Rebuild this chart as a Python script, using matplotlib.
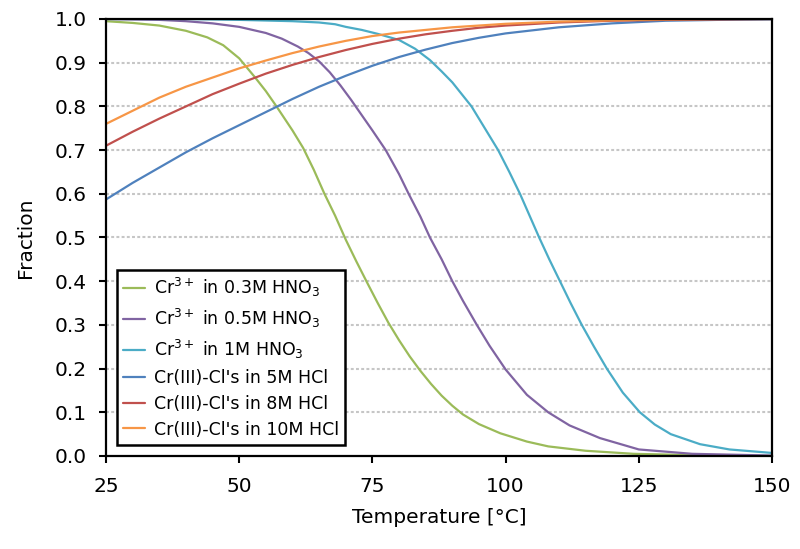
'''Fraction of Cr species vs temperature in HNO3 / HCl solutions.'''

import numpy as np
import matplotlib
matplotlib.use('Agg')
import matplotlib.pyplot as plt
from matplotlib.ticker import FormatStrFormatter

# ---------------------------------------------------------------------------
# data (temperature in degC, fraction)
t_03 = [25, 30, 35, 40, 44, 47, 50, 53, 55, 57, 60, 62, 64, 66, 68, 70, 72, 74,
        76, 78, 80, 82, 84, 86, 88, 90, 92, 95, 99, 104, 108, 115, 124, 135, 150]
f_03 = [0.995, 0.991, 0.985, 0.973, 0.958, 0.94, 0.91, 0.866, 0.835, 0.80, 0.745,
        0.705, 0.655, 0.60, 0.55, 0.495, 0.445, 0.397, 0.35, 0.305, 0.265, 0.228,
        0.195, 0.165, 0.138, 0.115, 0.095, 0.073, 0.052, 0.033, 0.022, 0.012,
        0.005, 0.002, 0.0]

t_05 = [25, 35, 40, 45, 50, 55, 58, 61, 63, 65, 67, 69, 71, 73, 75, 77.5,
        80, 81.8, 84, 85.8, 88, 90, 92, 94.6, 97, 100, 104, 108, 112, 117.7, 125,
        135, 150]
f_05 = [1.0, 0.998, 0.995, 0.99, 0.982, 0.968, 0.955, 0.937, 0.922, 0.903, 0.878,
        0.848, 0.815, 0.78, 0.745, 0.70, 0.645, 0.60, 0.548, 0.50, 0.45, 0.40,
        0.355, 0.30, 0.252, 0.198, 0.14, 0.10, 0.07, 0.041, 0.015, 0.005, 0.001]

t_1 = [25, 40, 50, 60, 65, 68, 70, 73, 76, 80, 83, 85.8, 88, 90, 93.6, 96, 98.6,
       100.7, 102.7, 104.5, 106.3, 108.2, 110.2, 112.2, 114.3, 116.6, 119, 122,
       125.2, 128, 131, 136.5, 142, 150]
f_1 = [1.0, 1.0, 0.998, 0.995, 0.992, 0.988, 0.982, 0.975, 0.966, 0.952, 0.932,
       0.906, 0.88, 0.855, 0.80, 0.752, 0.70, 0.65, 0.60, 0.55, 0.50, 0.45, 0.40,
       0.35, 0.30, 0.25, 0.20, 0.145, 0.10, 0.072, 0.05, 0.027, 0.015, 0.007]

t_hcl = [25, 30, 35, 40, 45, 50, 55, 60, 65, 70, 75, 80, 85, 90, 95, 100, 110,
         120, 130, 140, 150]
f_5m = [0.587, 0.625, 0.66, 0.695, 0.727, 0.757, 0.787, 0.817, 0.845, 0.87,
        0.893, 0.913, 0.93, 0.945, 0.957, 0.967, 0.981, 0.99, 0.996, 0.998, 0.999]
f_8m = [0.71, 0.742, 0.772, 0.80, 0.828, 0.852, 0.875, 0.895, 0.913, 0.929,
        0.943, 0.955, 0.965, 0.973, 0.98, 0.985, 0.992, 0.996, 0.998, 0.999, 1.0]
f_10m = [0.76, 0.79, 0.82, 0.845, 0.866, 0.887, 0.905, 0.922, 0.937, 0.95,
         0.961, 0.969, 0.975, 0.981, 0.985, 0.989, 0.994, 0.997, 0.999, 1.0, 1.0]

labels = ['Cr$^{3+}$ in 0.3M HNO$_3$',
          'Cr$^{3+}$ in 0.5M HNO$_3$',
          'Cr$^{3+}$ in 1M HNO$_3$',
          "Cr(III)-Cl's in 5M HCl",
          "Cr(III)-Cl's in 8M HCl",
          "Cr(III)-Cl's in 10M HCl"]
colors = ['#9BBB59', '#8064A2', '#4BACC6', '#4F81BD', '#C0504D', '#F79646']

xticks = [25, 50, 75, 100, 125, 150]
yticks = np.arange(0, 11) / 10

#----------------------------------------------------------------------
fig = plt.figure(figsize=(8, 5.49), dpi=100)
ax = fig.add_axes([0.1325, 0.1694, 0.8325, 0.796])

series = [(t_03, f_03), (t_05, f_05), (t_1, f_1),
          (t_hcl, f_5m), (t_hcl, f_8m), (t_hcl, f_10m)]
for (t, f), lab, col in zip(series, labels, colors):
    ax.plot(t, f, color=col, lw=1.6, label=lab,
            solid_joinstyle='round', solid_capstyle='round')

# dotted horizontal grid
for y in yticks[1:-1]:
    ax.axhline(y, color='#c6c6c6', lw=1.5, dashes=(1.4, 1.1), zorder=0)

ax.set_xlim(25, 150)
ax.set_ylim(0, 1)
ax.set_xticks(xticks)
ax.set_yticks(yticks)
ax.yaxis.set_major_formatter(FormatStrFormatter('%.1f'))
ax.tick_params(direction='out', length=5, width=1.5, labelsize=14.5)
ax.tick_params(axis='x', pad=10)
ax.tick_params(axis='y', pad=9)
for sp in ax.spines.values():
    sp.set_linewidth(1.6)
    sp.set_color('black')

ax.set_xlabel('Temperature [°C]', fontsize=14.5, labelpad=9)
ax.set_ylabel('Fraction', fontsize=14.5, labelpad=14)

leg = ax.legend(loc='lower left', bbox_to_anchor=(0.016, 0.026),
                borderaxespad=0, fontsize=12.5, frameon=True, fancybox=False,
                framealpha=1, handlelength=1.3, handletextpad=0.5,
                labelspacing=0.45, borderpad=0.35)
leg.get_frame().set_edgecolor('black')
leg.get_frame().set_linewidth(1.8)
for h in leg.get_lines():
    h.set_linewidth(1.6)

plt.savefig('out.png', dpi=100)
